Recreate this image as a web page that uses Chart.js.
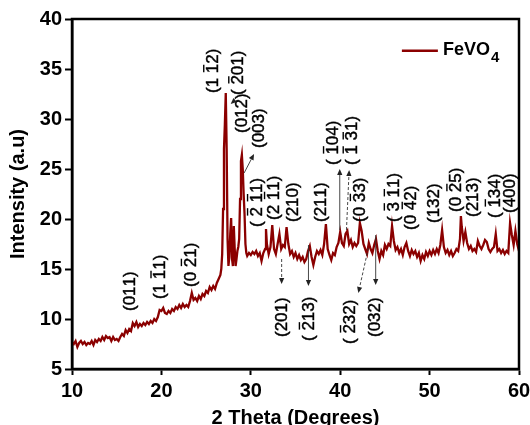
<!DOCTYPE html>
<html><head><meta charset="utf-8">
<script src="https://cdn.jsdelivr.net/npm/chart.js@4.4.1/dist/chart.umd.min.js"></script>
<style>html,body{margin:0;padding:0;background:#fff;}canvas{display:block;}</style>
</head><body>
<canvas id="c" width="530" height="425"></canvas>
<script>
// ---- data ----
const twoTheta = [
 10.0,10.2,10.4,10.6,10.8, 11.0,11.2,11.4,11.6,11.8, 12.0,12.2,12.4,12.6,12.8,
 13.0,13.2,13.4,13.6,13.8, 14.0,14.2,14.4,14.6,14.8, 15.0,15.2,15.4,15.6,15.8,
 16.0,16.2,16.4,16.6,16.8, 17.0,17.2,17.4,17.6,17.8, 18.0,18.2,18.4,18.6,18.8,
 19.0,19.2,19.4,19.6,19.8, 20.0,20.2,20.4,20.6,20.8, 21.0,21.2,21.4,21.6,21.8,
 22.0,22.2,22.4,22.6,22.8, 23.0,23.2,23.4,23.6,23.8, 24.0,24.2,24.4,24.6,24.8,
 25.0,25.2,25.4,25.6,25.8, 26.0,26.2,26.4,26.6,26.7, 26.8,26.9,27.0,27.1,27.2,
 27.3,27.4,27.5,27.6,27.7, 27.8,27.9,28.0,28.1,28.2, 28.3,28.4,28.5,28.6,28.7,
 28.8,28.9,29.0,29.1,29.2, 29.3,29.4,29.5,29.6,29.8,
 30.0,30.2,30.4,30.6,30.8, 31.0,31.2,31.4,31.6,31.7, 31.8,32.0,32.2,32.4,32.6,
 32.8,33.0,33.2,33.4,33.6, 33.8,34.0,34.2,34.4,34.6, 34.8,35.0,35.2,35.4,35.6,
 35.8,36.0,36.2,36.4,36.6, 36.8,37.0,37.2,37.4,37.6, 37.8,38.0,38.2,38.4,38.6,
 38.8,39.0,39.2,39.4,39.6, 39.8,40.0,40.2,40.4,40.6, 40.8,41.0,41.2,41.4,41.6,
 41.8,42.0,42.2,42.4,42.6, 42.8,43.0,43.2,43.4,43.6, 43.8,44.0,44.2,44.4,44.6,
 44.8,45.0,45.2,45.4,45.6, 45.8,46.0,46.2,46.4,46.6, 46.8,47.0,47.2,47.4,47.6,
 47.8,48.0,48.2,48.4,48.6, 48.8,49.0,49.2,49.4,49.6, 49.8,50.0,50.2,50.4,50.6,
 50.8,51.0,51.2,51.4,51.6, 51.8,52.0,52.2,52.4,52.6, 52.8,53.0,53.2,53.4,53.5,
 53.6,53.8,54.0,54.2,54.4, 54.6,54.8,55.0,55.2,55.4, 55.6,55.8,56.0,56.2,56.4,
 56.6,56.8,57.0,57.2,57.4, 57.6,57.8,58.0,58.2,58.4, 58.6,58.8,59.0,59.2,59.4,
 59.6,59.8,60.0
];
const intensity = [
 7.7,7.5,7.8,7.2,7.6, 7.8,7.5,7.7,7.4,7.6, 7.5,7.8,7.4,7.9,7.7,
 8.0,7.8,8.2,7.9,8.3, 8.1,8.2,7.8,8.2,7.9, 8.0,7.8,8.2,8.5,8.3,
 8.9,8.6,9.0,8.8,9.6, 9.3,9.7,9.2,9.5,9.3, 9.6,9.4,9.7,9.5,9.8,
 9.6,10.0,9.8,10.2,10.9, 10.8,11.1,10.6,10.5,10.8, 10.6,11.0,10.8,11.2,11.0,
 11.4,11.1,11.5,11.2,11.4, 11.2,11.8,12.6,11.9,12.1, 11.8,12.3,12.0,12.5,12.3,
 12.8,12.6,13.2,12.9,13.3, 13.0,13.6,14.0,14.4,15.0, 16.5,21.0,27.0,29.5,32.6,
 27.0,18.0,15.3,16.2,18.5, 20.1,16.0,15.3,19.3,17.0, 15.3,16.0,16.8,17.2,18.0,
 22.0,25.8,26.4,25.0,22.5, 20.5,17.5,16.6,16.3,16.6,
 16.4,16.7,16.5,16.8,16.3, 16.6,15.8,16.6,17.0,19.0, 17.5,16.5,17.2,19.4,17.0,
 16.5,17.5,18.5,17.0,17.4, 17.2,19.2,17.5,16.5,16.8, 16.2,16.6,16.0,16.4,15.9,
 16.2,15.7,16.0,16.8,17.3, 16.2,15.4,16.2,16.8,16.5, 16.9,16.4,17.5,19.5,17.0,
 16.4,15.9,16.6,16.4,17.2, 17.6,18.7,17.6,17.3,18.5, 18.8,17.5,17.9,17.2,17.6,
 17.3,17.6,19.6,18.8,17.5, 17.0,16.5,17.6,17.0,16.6, 17.4,18.0,16.8,16.0,16.8,
 16.4,17.4,17.0,17.5,17.3, 19.3,17.8,16.9,17.2,16.6, 17.0,16.4,17.2,17.6,16.8,
 16.3,16.9,16.5,16.8,16.2, 16.6,15.8,16.4,16.0,16.7, 16.3,16.8,16.4,16.9,16.5,
 17.0,16.6,17.4,18.9,17.2, 16.6,16.9,16.4,16.8,16.3, 16.6,17.0,16.8,18.0,20.3,
 19.2,17.8,18.7,17.6,17.0, 17.3,16.8,17.0,16.7,17.8, 17.3,17.0,17.4,17.9,17.7,
 17.0,16.7,17.0,17.2,18.5, 16.8,17.0,16.6,16.9,16.5, 16.8,16.6,19.6,18.4,17.4,
 18.8,17.5,16.8
];
const seriesName = 'FeVO';
const seriesSub = '4';
const xTickValues = [10, 20, 30, 40, 50, 60];
const yTickValues = [5, 10, 15, 20, 25, 30, 35, 40];

// Miller-index annotations ("~" = overbar on next character)
const hklText = ['(011)','(1 ~11)','(0 ~21)','(1 ~12)','( ~201)','(012)','(003)','( ~2 ~11)','(2 ~11)','(210)','(211)',
 '( ~104)','( ~1 ~31)','(0 ~33)','( ~3 ~11)','(0 ~42)','(132)','(0 ~25)','(213)','( ~134)','(400)',
 '(201)','( ~213)','( ~232)','(032)'];
const hklX = [16.5,19.9,23.3,25.8,28.6,29.0,31.0,30.7,32.6,34.8,37.9,
 39.2,41.4,42.2,46.0,48.0,50.5,53.0,54.9,57.3,59.0,
 33.5,36.5,41.1,43.9];
const hklY = [10.8,12.0,13.2,32.6,32.4,28.6,27.1,19.2,19.9,19.7,19.7,
 25.4,25.4,19.7,19.7,18.9,19.6,20.7,20.2,20.1,20.6,
 8.2,7.8,7.5,8.2];

// arrows: from (x1,y1) to (x2,y2), head at the second point
const arrowX1 = [28.25, 29.25, 39.95, 40.7, 33.45, 36.45, 43.15, 43.97];
const arrowY1 = [31.9, 24.6, 18.9, 18.9, 16.0, 17.4, 17.1, 18.4];
const arrowX2 = [27.75, 30.36, 39.95, 41.0, 33.45, 36.45, 42.03, 43.97];
const arrowY2 = [31.5, 26.5, 25.0, 24.9, 13.5, 13.3, 12.6, 13.4];
const arrowDash = [false, false, false, true, true, false, true, false];

const lineColor = '#8b0000';
const FONT = '"Liberation Sans", Arial, sans-serif';

function drawHkl(ctx, text, px, py) {
  ctx.save();
  ctx.translate(px, py);
  ctx.rotate(-Math.PI / 2);
  ctx.font = '17px ' + FONT;
  ctx.textBaseline = 'middle';
  ctx.textAlign = 'left';
  ctx.fillStyle = '#000';
  ctx.strokeStyle = '#000';
  let x = 0, bar = false;
  for (const ch of text) {
    if (ch === '~') { bar = true; continue; }
    const w = ctx.measureText(ch).width;
    ctx.fillText(ch, x, 0);
    ctx.lineWidth = 0.45;
    ctx.strokeText(ch, x, 0);
    if (bar) {
      ctx.lineWidth = 1.4;
      ctx.beginPath();
      ctx.moveTo(x + 1, -9.5);
      ctx.lineTo(x + w - 1, -9.5);
      ctx.stroke();
      bar = false;
    }
    x += w;
  }
  ctx.restore();
}

function drawArrow(ctx, x1, y1, x2, y2, dashed) {
  ctx.save();
  ctx.strokeStyle = '#333';
  ctx.fillStyle = '#222';
  ctx.lineWidth = 0.9;
  if (dashed) ctx.setLineDash([3, 2]);
  const a = Math.atan2(y2 - y1, x2 - x1);
  const hl = 6, hw = 2.6;
  const bx = x2 - hl * Math.cos(a), by = y2 - hl * Math.sin(a);
  ctx.beginPath(); ctx.moveTo(x1, y1); ctx.lineTo(bx, by); ctx.stroke();
  ctx.setLineDash([]);
  ctx.beginPath();
  ctx.moveTo(x2, y2);
  ctx.lineTo(bx - hw * Math.sin(a), by + hw * Math.cos(a));
  ctx.lineTo(bx + hw * Math.sin(a), by - hw * Math.cos(a));
  ctx.closePath(); ctx.fill();
  ctx.restore();
}

const decor = {
  id: 'decor',
  beforeDraw(chart) {
    const ctx = chart.ctx;
    ctx.save(); ctx.fillStyle = '#fff'; ctx.fillRect(0, 0, chart.width, chart.height); ctx.restore();
  },
  afterDraw(chart) {
    const ctx = chart.ctx, xs = chart.scales.x, ys = chart.scales.y, ca = chart.chartArea;
    // frame
    ctx.save();
    ctx.strokeStyle = '#000'; ctx.lineWidth = 2.5;
    ctx.strokeRect(ca.left, ca.top, ca.right - ca.left, ca.bottom - ca.top);
    ctx.restore();
    // labels
    hklText.forEach((t, i) => drawHkl(ctx, t, xs.getPixelForValue(hklX[i]), ys.getPixelForValue(hklY[i])));
    arrowX1.forEach((v, i) => drawArrow(ctx, xs.getPixelForValue(arrowX1[i]), ys.getPixelForValue(arrowY1[i]),
      xs.getPixelForValue(arrowX2[i]), ys.getPixelForValue(arrowY2[i]), arrowDash[i]));
    // legend
    const lx = xs.getPixelForValue(46.9), ly = ys.getPixelForValue(36.83);
    ctx.save();
    ctx.strokeStyle = lineColor; ctx.lineWidth = 2.5;
    ctx.beginPath(); ctx.moveTo(lx, ly); ctx.lineTo(lx + 36, ly); ctx.stroke();
    ctx.fillStyle = '#000';
    ctx.font = 'bold 18px ' + FONT;
    ctx.textBaseline = 'alphabetic';
    ctx.fillText(seriesName, lx + 41, ly + 4.5);
    const w = ctx.measureText(seriesName).width;
    ctx.font = 'bold 15px ' + FONT;
    ctx.fillText(seriesSub, lx + 41 + w + 1, ly + 11.5);
    ctx.restore();
  }
};

new Chart(document.getElementById('c'), {
  type: 'line',
  data: {
    datasets: [{
      label: seriesName + seriesSub,
      data: twoTheta.map((x, i) => ({ x: x, y: intensity[i] })),
      borderColor: lineColor,
      borderWidth: 2.3,
      pointRadius: 0,
      tension: 0,
      fill: false
    }]
  },
  options: {
    responsive: false,
    animation: false,
    layout: { padding: { top: 19, right: 11, left: 0, bottom: 0 } },
    plugins: { legend: { display: false }, tooltip: { enabled: false } },
    scales: {
      x: {
        type: 'linear', min: 10, max: 60,
        afterBuildTicks: s => { s.ticks = xTickValues.map(v => ({ value: v })); },
        afterFit: s => { s.height = 56; s.paddingLeft = 0; s.paddingRight = 0; },
        grid: { drawOnChartArea: false, drawTicks: true, tickLength: 6, tickWidth: 2, color: '#000' },
        border: { display: true, color: '#000', width: 2.5 },
        ticks: { color: '#000', font: { family: FONT, size: 20, weight: 'bold' }, padding: 4, maxRotation: 0 },
        title: { display: true, text: '2 Theta (Degrees)', color: '#000', font: { family: FONT, size: 20, weight: 'bold' }, padding: { top: 0, bottom: -5 } }
      },
      y: {
        type: 'linear', min: 5, max: 40,
        afterBuildTicks: s => { s.ticks = yTickValues.map(v => ({ value: v })); },
        afterFit: s => { s.width = 72; s.paddingTop = 0; s.paddingBottom = 0; },
        grid: { drawOnChartArea: false, drawTicks: true, tickLength: 7, tickWidth: 2, color: '#000' },
        border: { display: true, color: '#000', width: 2.5 },
        ticks: { color: '#000', font: { family: FONT, size: 20, weight: 'bold' }, padding: 3 },
        title: { display: true, text: 'Intensity (a.u)', color: '#000', font: { family: FONT, size: 20, weight: 'bold' }, padding: { top: 6.5, bottom: 0 } }
      }
    }
  },
  plugins: [decor]
});
</script>
</body></html>
